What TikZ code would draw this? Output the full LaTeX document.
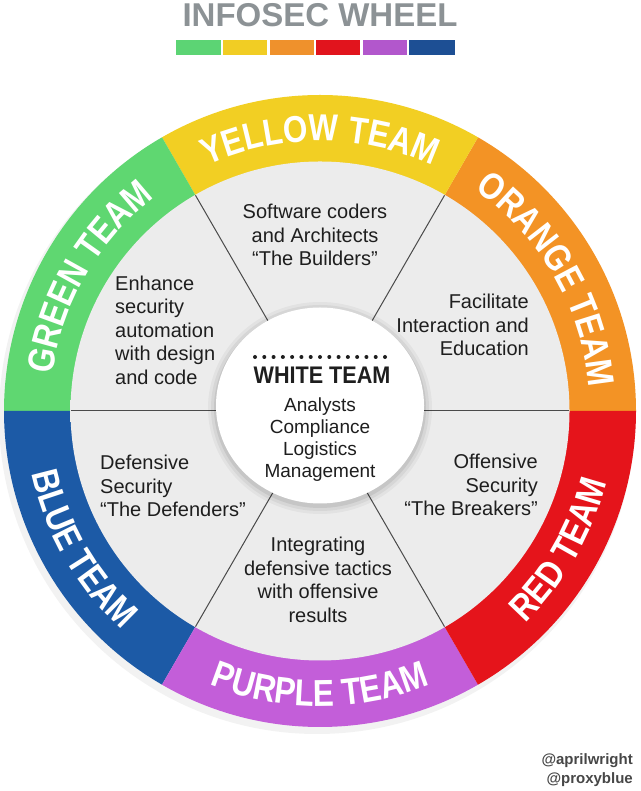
\documentclass[tikz,border=0pt]{standalone}
\usepackage{fontspec}
\setmainfont{Liberation Sans}
\newfontfamily\ringfont[FakeStretch=0.84]{Liberation Sans}
\newfontfamily\whitefont[FakeStretch=0.9]{Liberation Sans}
\usetikzlibrary{decorations.text}
\definecolor{cgreen}{HTML}{5FD771}
\definecolor{cyellow}{HTML}{F2CF23}
\definecolor{corange}{HTML}{F39325}
\definecolor{cred}{HTML}{E5141B}
\definecolor{cpurple}{HTML}{C35ED9}
\definecolor{cblue}{HTML}{1C5AA6}
\definecolor{bgreen}{HTML}{5CD474}
\definecolor{byellow}{HTML}{F1CD24}
\definecolor{borange}{HTML}{EF912C}
\definecolor{bred}{HTML}{E1141D}
\definecolor{bpurple}{HTML}{B257CC}
\definecolor{bblue}{HTML}{1D4F94}
\definecolor{titlegray}{HTML}{8C9295}
\definecolor{txtdark}{HTML}{1E1E1E}
\definecolor{divgray}{HTML}{4A4A4A}
\definecolor{wl}{HTML}{ECECEC}
\definecolor{wm}{HTML}{DFDFDF}
\definecolor{wd}{HTML}{B8B8B8}
\pgfdeclareradialshading{wedgeshade}{\pgfpoint{0bp}{0bp}}{color(0bp)=(wl); color(40bp)=(wl); color(46.5bp)=(wm); color(50bp)=(wd)}
\newcommand\ringstyle{\ringfont\bfseries\fontsize{37.5}{37.5}\selectfont}
\tikzset{
  wedgetext/.style={font=\fontsize{20}{23.5}\selectfont, text=txtdark, inner sep=0pt},
  whitetext/.style={font=\fontsize{19}{22}\selectfont, text=txtdark, inner sep=0pt, align=center},
  divider/.style={draw=divgray, line width=1pt},
  ringtext/.style={decorate, decoration={text along path, text align=center, text color=white, text={#1}}}
}
\begin{document}
\begin{tikzpicture}[x=1pt,y=1pt]
\useasboundingbox (0,0) rectangle (640,791);
\fill[white] (0,0) rectangle (640,791);
% title
\node[font=\bfseries\fontsize{33}{33}\selectfont, text=titlegray, anchor=base, inner sep=0pt] (title) at (320,764) {INFOSEC WHEEL};
\foreach \xa/\xb/\c in {176/221/bgreen, 223/267/byellow, 270/314/borange, 316/360/bred, 363/407/bpurple, 409/455/bblue}
  \fill[\c] (\xa,736) rectangle (\xb,751);
% wheel
\begin{scope}[shift={(320,380)}]
  \fill[black, opacity=0.05] (-3,-5) circle (318);
  \foreach \a/\c [evaluate=\a as \b using \a+60] in {0/corange,60/cyellow,120/cgreen,180/cblue,240/cpurple,300/cred}
    \fill[\c] (\a:316) arc[start angle=\a, end angle=\b, radius=316] -- (\b:249) arc[start angle=\b, end angle=\a, radius=249] -- cycle;
  \shade[shading=wedgeshade] (0,0) circle (249.5);
  \foreach \a in {0,60,...,300}
    \draw[divider] (0,0) -- (\a:249);
  \foreach \r/\o in {112/0.04,109/0.05,106/0.07}
    \fill[black, opacity=\o] (0,3) ellipse [x radius=\r, y radius=\r-6];
  \fill[white] (0,5.5) ellipse [x radius=104, y radius=98];
  % ring labels
  \path[ringtext={|\ringstyle|YELLOW TEAM}] (120:270) arc[start angle=120, end angle=60, radius=270];
  \path[ringtext={|\ringstyle|ORANGE TEAM}] (60:270) arc[start angle=60, end angle=0, radius=270];
  \path[ringtext={|\ringstyle|GREEN TEAM}] (180:270) arc[start angle=180, end angle=120, radius=270];
  \path[ringtext={|\ringstyle|BLUE TEAM}] (180:295) arc[start angle=180, end angle=240, radius=295];
  \path[ringtext={|\ringstyle|PURPLE TEAM}] (240:295) arc[start angle=240, end angle=300, radius=295];
  \path[ringtext={|\ringstyle|RED TEAM}] (300:295) arc[start angle=300, end angle=360, radius=295];
\end{scope}
% wedge texts
\node[wedgetext, align=center] (yellowtxt) at (315,556) {Software coders\\and Architects\\“The Builders”};
\node[wedgetext, align=left, anchor=west] (greentxt) at (115,461) {Enhance\\security\\automation\\with design\\and code};
\node[wedgetext, align=right, anchor=east] (orangetxt) at (529,466) {Facilitate\\Interaction and\\Education};
\node[wedgetext, align=left, anchor=west] (bluetxt) at (100,305) {Defensive\\Security\\“The Defenders”};
\node[wedgetext, align=right, anchor=east] (redtxt) at (538,306) {Offensive\\Security\\“The Breakers”};
\node[wedgetext, align=center] (purpletxt) at (318,211) {Integrating\\defensive tactics\\with offensive\\results};
% white team
\foreach \i in {0,...,14}
  \fill[txtdark] (255+\i*9.286,434) circle (2);
\node[font=\whitefont\bfseries\fontsize{24}{24}\selectfont, text=txtdark, inner sep=0pt] (whitetitle) at (322,416) {WHITE TEAM};
\node[whitetext] (whitetxt) at (320,351) {Analysts\\Compliance\\Logistics\\Management};
% credits
\node[anchor=base east, font=\bfseries\fontsize{15}{15}\selectfont, text=black!72, inner sep=0pt] (april) at (633,26) {@aprilwright};
\node[anchor=base east, font=\bfseries\fontsize{15}{15}\selectfont, text=black!72, inner sep=0pt] (proxy) at (633,8) {@proxyblue};
\end{tikzpicture}
\end{document}
